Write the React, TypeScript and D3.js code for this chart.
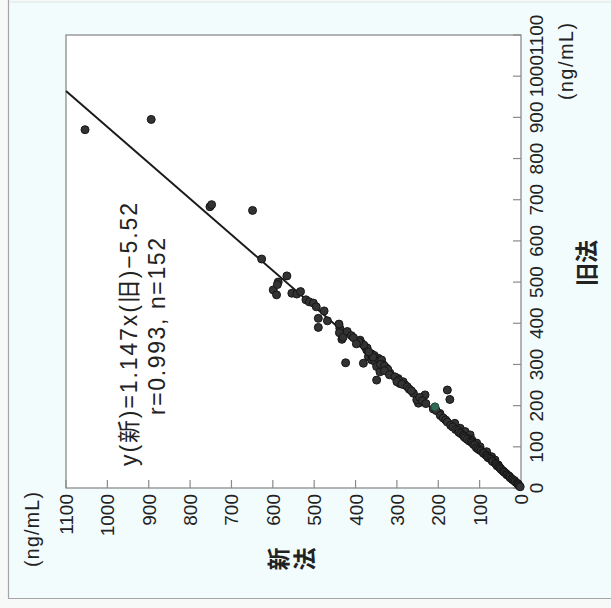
import React from "react";
import * as d3 from "d3";

// 旧法 (old method) values, paired index-by-index with 新法 (new method) values
const oldValues: number[] = [
  870, 895, 683, 688, 674, 556, 515, 500, 481, 469, 494, 473, 471, 477, 457, 452, 449, 412, 390, 406,
  388, 377, 361, 366, 304, 359, 351, 343, 335, 303, 319, 311, 307, 315, 311, 299, 295, 282, 262, 291,
  279, 266, 254, 258, 250, 230, 206, 214, 226, 181, 238, 215, 157, 145, 137, 129, 117, 109, 100, 88,
  76, 68, 56, 340, 347, 355, 326, 322, 318, 300, 296, 288, 285, 275, 270, 262, 258, 252, 246, 240,
  236, 220, 212, 205, 192, 188, 176, 170, 165, 160, 152, 148, 142, 140, 135, 132, 128, 125, 122, 120,
  118, 114, 112, 110, 106, 104, 98, 95, 92, 90, 86, 84, 80, 78, 74, 72, 70, 66, 64, 60,
  58, 54, 52, 50, 48, 45, 42, 40, 38, 35, 32, 30, 28, 25, 22, 20, 18, 15, 12, 10,
  8, 5, 3, 440, 430, 398, 380, 370, 365, 350, 330,
];
const newValues: number[] = [
  1054, 894, 752, 748, 649, 627, 566, 587, 599, 591, 589, 554, 542, 533, 520, 512, 502, 490, 490, 468,
  438, 439, 433, 430, 424, 389, 385, 377, 373, 381, 369, 361, 353, 345, 337, 333, 349, 341, 349, 325,
  317, 297, 293, 285, 280, 260, 248, 252, 232, 196, 178, 172, 160, 147, 135, 123, 119, 107, 99, 83,
  71, 63, 55, 372, 380, 392, 362, 355, 358, 340, 330, 322, 330, 318, 305, 296, 300, 288, 275, 270,
  265, 245, 238, 230, 212, 205, 195, 188, 182, 178, 170, 165, 158, 152, 150, 145, 140, 138, 135, 128,
  130, 125, 120, 118, 115, 112, 108, 104, 100, 96, 92, 90, 85, 82, 80, 76, 72, 70, 68, 62,
  60, 58, 54, 52, 50, 48, 44, 42, 40, 36, 34, 30, 28, 26, 22, 20, 16, 14, 10, 8,
  6, 4, 2, 495, 476, 440, 420, 410, 405, 398, 368,
];
// one point drawn in green in the reference
const greenOld: number[] = [197];
const greenNew: number[] = [208];

const tickValues: number[] = [0, 100, 200, 300, 400, 500, 600, 700, 800, 900, 1000, 1100];
const slope = 1.147;
const intercept = -5.52;
const equationText = "y(新)=1.147x(旧)−5.52";
const statsText = "r=0.993, n=152";
const xAxisTitle = "旧法";
const yAxisTitleChars = ["新", "法"];
const unitText = "(ng/mL)";

const FONT = "'Liberation Sans', Arial, 'Noto Sans CJK JP', sans-serif";

export default function App() {
  const W = 611;
  const H = 608;
  // screen x encodes 新法 (0 at right), screen y encodes 旧法 (0 at bottom)
  const sx = d3.scaleLinear().domain([0, 1100]).range([521, 66]);
  const sy = d3.scaleLinear().domain([0, 1100]).range([488, 35]);

  const lineStart = -intercept / slope;
  const lineEnd = (1100 - intercept) / slope;
  const regData: [number, number][] = [lineStart, lineEnd].map((o) => [o, slope * o + intercept]);
  const linePath = d3
    .line<[number, number]>()
    .x((d) => sx(d[1]))
    .y((d) => sy(d[0]))(regData) as string;

  const tickColor = "#8a8a8a";

  return (
    <svg
      width={W}
      height={H}
      style={{ position: "absolute", left: 0, top: 0, fontFamily: FONT }}
    >
      <rect x={0} y={0} width={W} height={H} fill="#f7f9f9" />
      <rect x={9} y={2} width={W - 9} height={596} fill="#f2fcfd" />
      <line x1={8.5} y1={0} x2={8.5} y2={598.5} stroke="#a5a5a5" strokeWidth={1.2} />
      <line x1={8} y1={598.5} x2={W} y2={598.5} stroke="#a5a5a5" strokeWidth={1.2} />
      <line x1={9} y1={2} x2={W} y2={2} stroke="#dde6e6" strokeWidth={1} />

      {/* plot frame */}
      <rect x={66} y={35} width={455} height={453} fill="#ffffff" stroke="#8c8c8c" strokeWidth={1.3} />

      {/* bottom axis (新法) ticks and labels */}
      {tickValues.map((v) => (
        <g key={"b" + v}>
          <line x1={sx(v)} x2={sx(v)} y1={488} y2={480} stroke={tickColor} strokeWidth={1.2} />
          <text
            transform={`translate(${sx(v) + 7},${494}) rotate(-90)`}
            textAnchor="end"
            fontSize={19}
            fill="#222"
          >
            {v}
          </text>
        </g>
      ))}

      {/* right axis (旧法) ticks and labels */}
      {tickValues.map((v) => (
        <g key={"r" + v}>
          <line x1={521} x2={513} y1={sy(v)} y2={sy(v)} stroke={tickColor} strokeWidth={1.2} />
          <text
            transform={`translate(${543},${sy(v)}) rotate(-90)`}
            textAnchor="middle"
            fontSize={19}
            fill="#222"
          >
            {v}
          </text>
        </g>
      ))}

      {/* regression line */}
      <path d={linePath} fill="none" stroke="#1a1a1a" strokeWidth={2} />

      {/* points */}
      {oldValues.map((o, i) => (
        <circle
          key={"p" + i}
          cx={sx(newValues[i])}
          cy={sy(o)}
          r={4}
          fill="#333"
          stroke="#161616"
          strokeWidth={1}
        />
      ))}
      {greenOld.map((o, i) => (
        <circle
          key={"g" + i}
          cx={sx(greenNew[i])}
          cy={sy(o)}
          r={4}
          fill="#2f6a55"
          stroke="#244d3f"
          strokeWidth={1}
        />
      ))}

      {/* equation */}
      <text
        transform={`translate(137,334.5) rotate(-90)`}
        textAnchor="middle"
        fontSize={23}
        textLength={263}
        lengthAdjust="spacing"
        fill="#222"
      >
        {equationText}
      </text>
      <text
        transform={`translate(165,326.5) rotate(-90)`}
        textAnchor="middle"
        fontSize={23}
        textLength={177}
        lengthAdjust="spacing"
        fill="#222"
      >
        {statsText}
      </text>

      {/* units */}
      <text
        transform={`translate(39,492) rotate(-90)`}
        textAnchor="end"
        fontSize={19.5}
        textLength={75}
        lengthAdjust="spacing"
        fill="#222"
      >
        {unitText}
      </text>
      <text
        transform={`translate(573,23) rotate(-90)`}
        textAnchor="end"
        fontSize={19.5}
        textLength={77}
        lengthAdjust="spacing"
        fill="#222"
      >
        {unitText}
      </text>

      {/* axis titles */}
      <text
        transform={`translate(587,263) rotate(-90)`}
        textAnchor="middle"
        dominantBaseline="central"
        fontSize={23}
        fontWeight="bold"
        fill="#222"
      >
        {xAxisTitle}
      </text>
      {yAxisTitleChars.map((c, i) => (
        <text
          key={c}
          transform={`translate(${279 + i * 26},559) rotate(-90)`}
          textAnchor="middle"
          dominantBaseline="central"
          fontSize={23}
          fontWeight="bold"
          fill="#222"
        >
          {c}
        </text>
      ))}
    </svg>
  );
}
